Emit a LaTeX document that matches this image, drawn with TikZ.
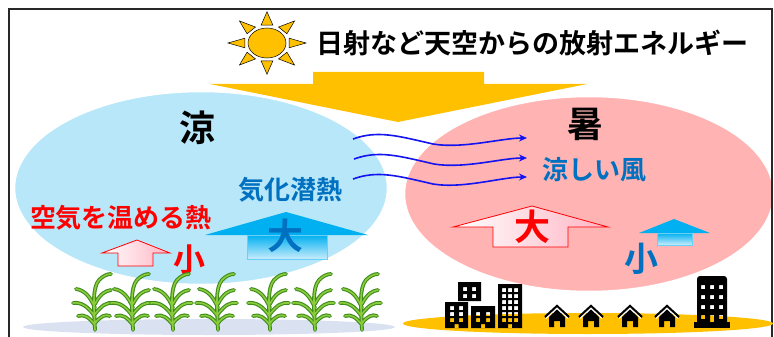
\documentclass[tikz,border=0pt]{standalone}
\usepackage{fontspec}
\newfontfamily\jpbold{Noto Sans CJK JP Bold}
\usetikzlibrary{arrows.meta,shadings}

\definecolor{sunyellow}{RGB}{255,192,0}
\definecolor{coolblue}{RGB}{183,231,249}
\definecolor{warmpink}{RGB}{255,179,179}
\definecolor{labelblue}{RGB}{0,112,192}
\definecolor{windblue}{RGB}{20,20,240}
\definecolor{arrowcyan}{RGB}{0,176,240}
\definecolor{palecyan}{RGB}{200,236,252}
\definecolor{arrowpink}{RGB}{255,180,195}
\definecolor{fieldgray}{RGB}{218,226,242}
\definecolor{leafdark}{RGB}{62,140,30}
\definecolor{leaflight}{RGB}{140,204,60}
\definecolor{framegray}{RGB}{40,40,40}

\tikzset{
  jp/.style={font=\jpbold\fontsize{#1}{#1}\selectfont, inner sep=0pt},
  wind/.style={windblue, line width=1.6pt, -{Stealth[length=8pt,width=7pt]}},
  sunray/.style={fill=sunyellow, draw=black, line width=0.5pt, line join=miter},
  cornplant/.pic={
    \foreach \w/\c in {3.8/leafdark,1.6/leaflight}{
      \draw[line width=\w pt, \c, line cap=round]
        (0,0) .. controls (-1,-22) and (-3,-42) .. (4,-50) .. controls (8,-54) and (12,-56) .. (16,-56)
        (0,-22) .. controls (-5,-34) and (-11,-40) .. (-19,-41)
        (0,-13) .. controls (-7,-24) and (-14,-28) .. (-22,-27)
        (0,-5) .. controls (-6,-13) and (-11,-16) .. (-17,-14)
        (0,-26) .. controls (5,-36) and (10,-39) .. (16,-40)
        (0,-16) .. controls (7,-25) and (12,-28) .. (19,-27)
        (0,-7) .. controls (6,-14) and (10,-16) .. (15,-14);
    }
  },
  hut/.pic={
    \draw[black, line width=2.2pt, line join=miter] (-12,-10) -- (0,-21) -- (12,-10);
    \draw[white, line width=1pt] (-11,-8.5) -- (0,-18.8) -- (11,-8.5);
    \fill[black] (-8,0) -- (-8,-10) -- (0,-17.5) -- (8,-10) -- (8,0) -- (3,0) -- (3,-6) -- (-3,-6) -- (-3,0) -- cycle;
  }
}

\begin{document}
\begin{tikzpicture}[x=1pt, y=-1pt]
\useasboundingbox (0,0) rectangle (774,337);

% incoming radiation
\fill[sunyellow] (313,72) -- (484,72) -- (484,84) -- (587,84) -- (398,122) -- (210,84) -- (313,84) -- cycle;

% cool and hot air masses
\filldraw[fill=coolblue, draw=white, line width=2.5pt] (201,188) ellipse [x radius=187, y radius=97];
\filldraw[fill=warmpink, draw=white, line width=2.5pt] (589,194) ellipse [x radius=185, y radius=98];

% frame
\draw[framegray, line width=1.5pt] (9,345) -- (9,9) -- (772,9) -- (772,345);

% sun
\begin{scope}[shift={(267,43)}, yscale=0.8]
  \foreach \a in {0,45,...,315}{
    \path[sunray] (\a-15:23) -- (\a:39) -- (\a+15:23) -- cycle;
  }
\end{scope}
\filldraw[fill=sunyellow, draw=black, line width=0.5pt] (267,43) ellipse [x radius=19, y radius=15];

% labels
\node[jp=27] (title) at (532,43) {日射など天空からの放射エネルギー};
\node[jp=36] (cool) at (197,128) {涼};
\node[jp=36] (hot) at (585,124) {暑};

% breeze
\coordinate (w1s) at (353,139); \coordinate (w1e) at (527,138);
\coordinate (w2s) at (354,159); \coordinate (w2e) at (527,158);
\coordinate (w3s) at (353,179); \coordinate (w3e) at (527,177);
\foreach \i in {1,2,3}{
  \draw[wind] (w\i s) .. controls ++(25,-9) and ++(-35,-8) .. ++(80,5)
              .. controls ++(30,5) and ++(-25,0) .. (w\i e);
}
\node[jp=26, text=labelblue] (breeze) at (594,170) {涼しい風};
\node[jp=26, text=labelblue] (latent) at (290,190) {気化潜熱};
\node[jp=26, text=red] (sensible) at (121,218) {空気を温める熱};

% heat flux arrows over the field
\path[shade, left color=white, right color=arrowpink, draw=red, line width=0.8pt]
  (118,266) -- (118,253) -- (102,253) -- (137,240) -- (170,253) -- (153,253) -- (153,266) -- cycle;
\node[jp=32, text=red] (smallL) at (189,260) {小};

\fill[arrowcyan] (205,235) -- (286,212) -- (368,235) -- cycle;
\path[shade, top color=arrowcyan, bottom color=palecyan, draw=arrowcyan!60, line width=0.8pt]
  (247,235) rectangle (327,259);
\node[jp=36, text=labelblue] (bigL) at (285,236) {大};

% heat flux arrows over the town
\path[shade, left color=white, right color=arrowpink, draw=red, line width=0.8pt]
  (493,247) -- (493,227) -- (453,227) -- (532,206) -- (608,227) -- (568,227) -- (568,247) -- cycle;
\node[jp=36, text=red] (bigR) at (532,227) {大};

\fill[arrowcyan] (639,233) -- (674,219) -- (710,233) -- cycle;
\path[shade, top color=arrowcyan, bottom color=palecyan, draw=arrowcyan!60, line width=0.8pt]
  (657,233) rectangle (692,245);
\node[jp=34, text=labelblue] (smallR) at (641,259) {小};

% ground
\fill[fieldgray] (209,327) ellipse [x radius=186, y radius=8];
\fill[sunyellow] (588,323.5) ellipse [x radius=185, y radius=10.5];

% crops
\foreach \x in {95,133,173,218,270,315,362}{
  \pic at (\x,330) {cornplant};
}

% buildings
\fill[black, even odd rule] (458,282) rectangle (481,301)
  \foreach \y in {287,294}{ (463,\y) rectangle ++(4,4) (472,\y) rectangle ++(4,4) };
\fill[black, even odd rule] (445,302) rectangle (468,328)
  \foreach \y in {306,312,318}{ (450,\y) rectangle ++(4,4) (459,\y) rectangle ++(4,4) }
  (454.5,324) rectangle (458.5,328);
\fill[black, even odd rule] (471,306) rectangle (495,328)
  \foreach \y in {312,318}{ (476,\y) rectangle ++(4,4) (486,\y) rectangle ++(4,4) }
  (481,324) rectangle (485,328);
\fill[black, even odd rule] (498,284) rectangle (522,328)
  \foreach \y in {288,294,300,306,312,318}{ (502,\y) rectangle ++(4,4) (508,\y) rectangle ++(4,4) (514,\y) rectangle ++(4,4) }
  (508,324) rectangle (512,328);

\foreach \x in {557,591,630,667}{
  \pic at (\x,327) {hut};
}

\fill[black, even odd rule] (697,324) {[rounded corners=3pt] -- (697,276) -- (727,276)} -- (727,324) -- cycle
  \foreach \y in {285,295,305}{ (701,\y) rectangle ++(4,4) (710,\y) rectangle ++(4,4) (719,\y) rectangle ++(4,4) }
  (701,315) rectangle ++(4,4) (719,315) rectangle ++(4,4) (710,315) rectangle (714,323);
\fill[black] (694,322) rectangle (730,328);
\end{tikzpicture}
\end{document}
